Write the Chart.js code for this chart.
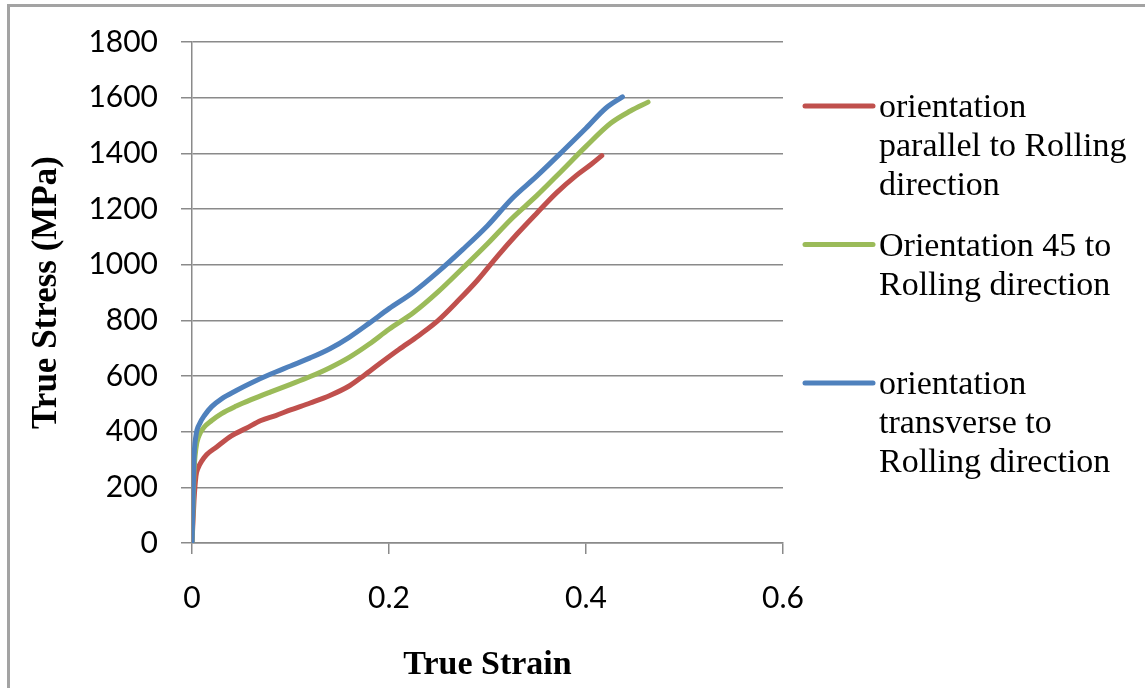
<!DOCTYPE html>
<html>
<head>
<meta charset="utf-8">
<script src="https://cdn.jsdelivr.net/npm/chart.js@4/dist/chart.umd.min.js"></script>
<style>
  html, body { margin: 0; padding: 0; background: #fff; overflow: hidden; }
  #frame { position: absolute; left: 7px; top: 4px; width: 1200px; height: 800px; border: 3px solid #a3a3a3; }
  #wrap { position: absolute; left: 0; top: 0; width: 1145px; height: 688px; }
</style>
</head>
<body>
<div id="frame"></div>
<div id="wrap"><canvas id="grafico"></canvas></div>
<script>
// valores
const xTicks = [0, 0.2, 0.4, 0.6];
const yTicks = [0, 200, 400, 600, 800, 1000, 1200, 1400, 1600, 1800];

const seriesNames = [
    ['orientation', 'parallel to Rolling', 'direction'],
    ['Orientation 45 to', 'Rolling direction'],
    ['orientation', 'transverse to', 'Rolling direction']
];
const seriesColors = ['#C0504D', '#9BBB59', '#4F81BD'];

const strainParalelo = [0, 0.002, 0.004, 0.006, 0.01, 0.015, 0.025, 0.04, 0.055, 0.07, 0.085, 0.1, 0.12, 0.14, 0.16, 0.175, 0.19, 0.21, 0.23, 0.25, 0.27, 0.29, 0.31, 0.33, 0.35, 0.37, 0.39, 0.405, 0.416];
const stressParalelo = [0, 150, 240, 268, 295, 318, 345, 385, 412, 440, 458, 478, 503, 530, 565, 603, 643, 695, 745, 800, 870, 945, 1030, 1110, 1185, 1258, 1320, 1360, 1392];

const strain45 = [0, 0.001, 0.002, 0.004, 0.007, 0.012, 0.02, 0.03, 0.045, 0.06, 0.08, 0.1, 0.12, 0.14, 0.16, 0.18, 0.2, 0.225, 0.25, 0.275, 0.3, 0.325, 0.35, 0.375, 0.4, 0.425, 0.445, 0.463];
const stress45 = [0, 120, 250, 340, 385, 415, 440, 465, 492, 515, 543, 570, 598, 630, 668, 715, 768, 828, 903, 988, 1075, 1167, 1248, 1336, 1425, 1508, 1552, 1584];

const strainTransv = [0, 0.001, 0.002, 0.004, 0.008, 0.013, 0.02, 0.03, 0.045, 0.06, 0.08, 0.1, 0.12, 0.14, 0.16, 0.18, 0.2, 0.225, 0.25, 0.275, 0.3, 0.325, 0.35, 0.375, 0.4, 0.42, 0.437];
const stressTransv = [0, 150, 300, 385, 430, 460, 490, 518, 548, 575, 607, 636, 665, 698, 740, 790, 842, 902, 975, 1055, 1140, 1238, 1318, 1403, 1490, 1562, 1603];

function puntos(xs, ys) {
    return xs.map((x, i) => ({ x: x, y: ys[i] }));
}

const gris = '#8a8a8a';
const fuenteTicks = { family: 'Lato', size: 30 };

// leyenda a la derecha, texto en varias lineas
const leyendaLateral = {
    id: 'leyendaLateral',
    afterDraw(chart) {
        const ctx = chart.ctx;
        const x0 = chart.chartArea.right + 22;
        ctx.save();
        chart.data.datasets.forEach((ds, i) => {
            const y0 = 106 + i * 138.5;
            ctx.strokeStyle = ds.borderColor;
            ctx.lineWidth = 5;
            ctx.lineCap = 'round';
            ctx.beginPath();
            ctx.moveTo(x0, y0);
            ctx.lineTo(x0 + 68, y0);
            ctx.stroke();
            ctx.fillStyle = '#000';
            ctx.font = '34px "Liberation Serif"';
            ctx.textBaseline = 'alphabetic';
            ctx.textAlign = 'left';
            seriesNames[i].forEach((t, j) => ctx.fillText(t, x0 + 74, y0 + 11 + j * 39));
        });
        ctx.restore();
    }
};

const serieBase = { pointRadius: 0, borderWidth: 5, borderCapStyle: 'round', cubicInterpolationMode: 'monotone', fill: false };

new Chart(document.getElementById('grafico'), {
    type: 'line',
    data: {
        datasets: [
            { ...serieBase, label: seriesNames[0].join(' '), data: puntos(strainParalelo, stressParalelo), borderColor: seriesColors[0], order: 3 },
            { ...serieBase, label: seriesNames[1].join(' '), data: puntos(strain45, stress45), borderColor: seriesColors[1], order: 2 },
            { ...serieBase, label: seriesNames[2].join(' '), data: puntos(strainTransv, stressTransv), borderColor: seriesColors[2], order: 1 }
        ]
    },
    options: {
        responsive: true,
        maintainAspectRatio: false,
        animation: false,
        devicePixelRatio: 1,
        layout: { padding: { left: 0, right: 362, top: 42, bottom: 0 } },
        plugins: { legend: { display: false }, tooltip: { enabled: false } },
        scales: {
            x: {
                type: 'linear',
                min: 0,
                max: 0.6,
                afterBuildTicks: s => { s.ticks = xTicks.map(v => ({ value: v })); },
                afterFit: s => { s.height = 145; },
                ticks: { color: '#000', font: fuenteTicks, padding: 26, maxRotation: 0, callback: v => String(v) },
                grid: { drawOnChartArea: false, color: gris, lineWidth: 1.5, tickLength: 11 },
                border: { color: gris, width: 1.5 },
                title: { display: true, text: 'True Strain', color: '#000', font: { family: 'Liberation Serif', size: 34, weight: 'bold' }, padding: { top: 0, bottom: 2 } }
            },
            y: {
                type: 'linear',
                min: 0,
                max: 1800,
                afterBuildTicks: s => { s.ticks = yTicks.map(v => ({ value: v })); },
                afterFit: s => { s.width = 192; },
                ticks: { color: '#000', font: fuenteTicks, padding: 23, callback: v => String(v) },
                grid: { color: gris, lineWidth: 1.5, tickLength: 11 },
                border: { color: gris, width: 1.5 },
                title: { display: true, text: 'True Stress (MPa)', color: '#000', font: { family: 'Liberation Serif', size: 35, weight: 'bold' }, padding: { top: 26, bottom: 0 } }
            }
        }
    },
    plugins: [leyendaLateral]
});
</script>
</body>
</html>
